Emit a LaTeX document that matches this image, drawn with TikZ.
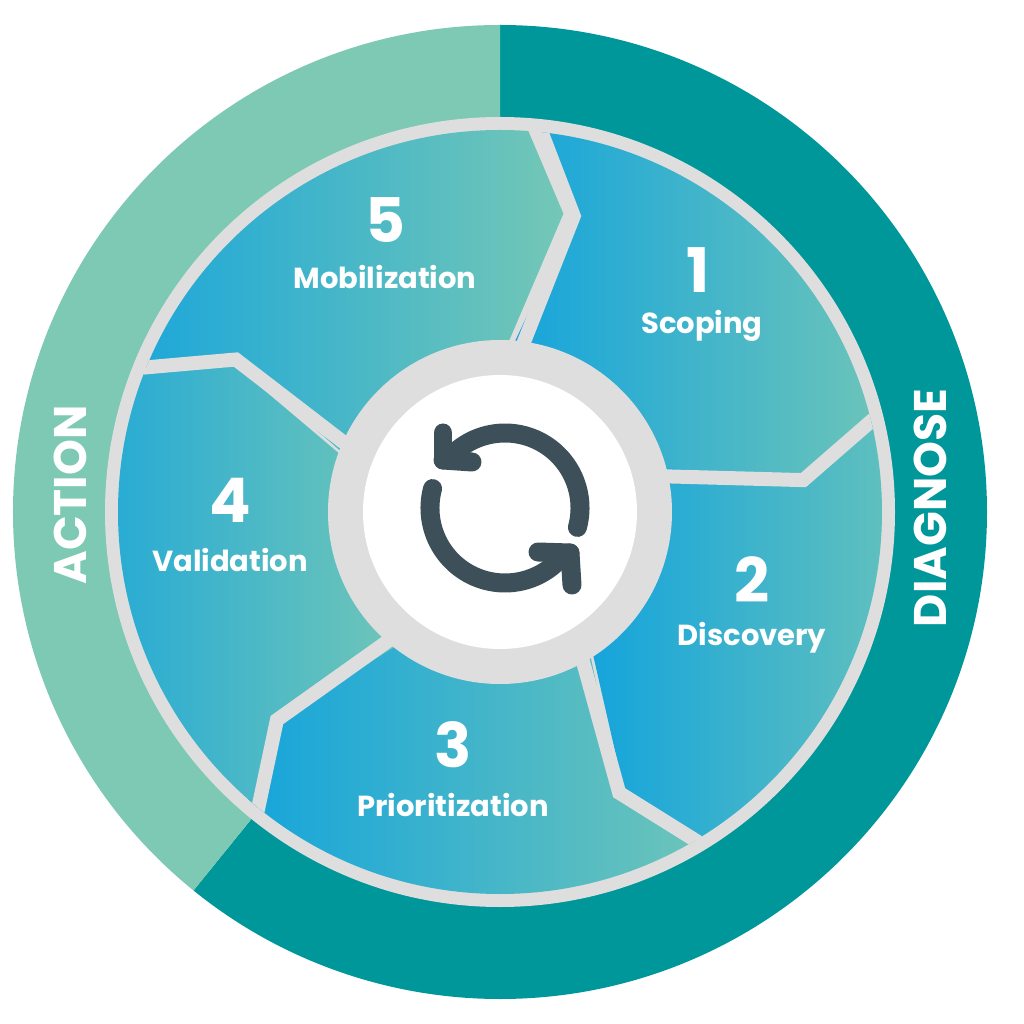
\documentclass[tikz,border=0pt]{standalone}
\usepackage{fontspec}
\setmainfont{Poppins}
\definecolor{teal}{HTML}{00979A}
\definecolor{lgreen}{HTML}{7DC9B4}
\definecolor{sblue}{HTML}{14A4DC}
\definecolor{sgreen}{HTML}{74C7B6}
\definecolor{lgray}{HTML}{DEDEDE}
\definecolor{icon}{HTML}{3D505A}
\begin{document}
\begin{tikzpicture}[x=0.02cm,y=0.02cm,
  num/.style={text=white,font=\bfseries\fontsize{35}{37}\selectfont},
  lab/.style={text=white,font=\bfseries\fontsize{16.5}{18}\selectfont},
  ring/.style={text=white,font=\bfseries\fontsize{26}{28}\selectfont,rotate=90}]
\useasboundingbox (-500,-512) rectangle (524,512);
\fill[white] (-500,-512) rectangle (524,512);
% outer ring
\fill[teal] (0,0) -- (90:487) arc[start angle=90,end angle=-129,radius=487] -- cycle;
\fill[lgreen] (0,0) -- (90:487) arc[start angle=90,end angle=231,radius=487] -- cycle;
\fill[lgray] (0,0) circle (395);
% segments
\begin{scope}
\clip (0,0) circle (382);
\foreach \t in {88,18,-55,-125,-198}{
  \pgfmathsetmacro{\u}{\t-72}
  \shade[left color=sblue,right color=sgreen]
    (\t:150) -- (\t-12:305) -- (\t-1:430) arc[start angle=\t-1,end angle=\t-73,radius=430]
    -- (\t-84:305) -- (\t-72:150) -- cycle;
}
\foreach \t in {88,18,-55,-125,-198}{
  \draw[draw=lgray,line width=0.28cm,line join=miter] (\t:120) -- (\t-12:305) -- (\t-1:430);
}
\end{scope}
\fill[lgray] (0,0) circle (172);
\fill[white] (0,0) circle (137);
% icon
\begin{scope}[shift={(5,4)},draw=icon,line width=0.38cm,line cap=round,line join=round]
\draw (-15:75) arc[start angle=-15,end angle=132,radius=75];
\draw (-62,48) -- (-62,75);
\draw (-62,48) -- (-33,46);
\draw (165:75) arc[start angle=165,end angle=312,radius=75];
\draw (65,-45) -- (33,-44);
\draw (65,-45) -- (67,-77);
\end{scope}
% labels
\node[num] (n5) at (-115,292) {5};
\node[lab] (l5) at (-115,235) {Mobilization};
\node[num] (n1) at (198,242) {1};
\node[lab] (l1) at (202,186) {Scoping};
\node[num] (n2) at (252,-68) {2};
\node[lab] (l2) at (252,-126) {Discovery};
\node[num] (n3) at (-47,-233) {3};
\node[lab] (l3) at (-47,-293) {Prioritization};
\node[num] (n4) at (-270,12) {4};
\node[lab] (l4) at (-270,-48) {Validation};
\node[ring] (ra) at (-430,17) {ACTION};
\node[ring] (rd) at (430,4) {DIAGNOSE};
\end{tikzpicture}
\end{document}
